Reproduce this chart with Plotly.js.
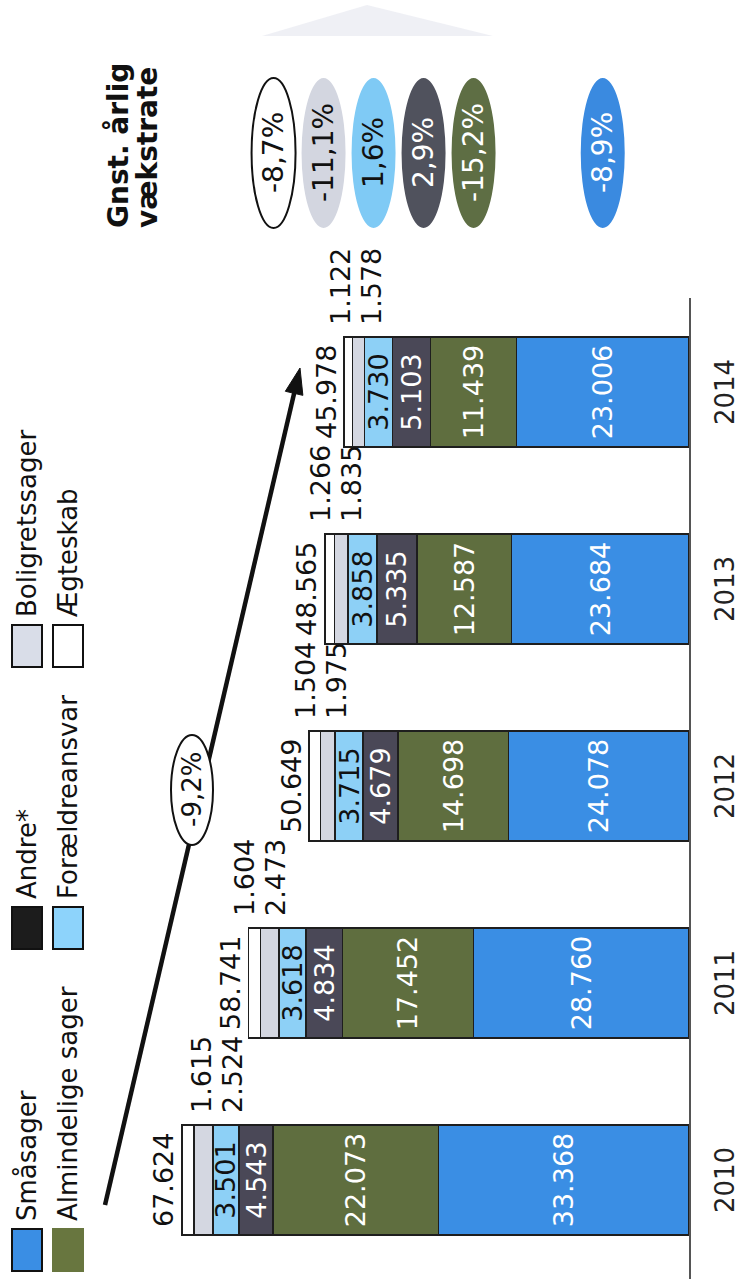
<!DOCTYPE html>
<html><head><meta charset="utf-8">
<script src="https://cdn.plot.ly/plotly-3.0.1.min.js"></script>
<style>
html,body{margin:0;padding:0;background:#fff;overflow:hidden;}
#stage{position:relative;width:743px;height:1279px;overflow:hidden;background:#fff;}
#chart{position:absolute;left:0;top:0;width:1279px;height:743px;transform-origin:0 0;transform:translate(0px,1279px) rotate(-90deg);}
</style></head>
<body><div id="stage"><div id="chart"></div></div>
<script>
// ---- data ----
const years = ['2010', '2011', '2012', '2013', '2014'];
const seriesNames = ['Småsager', 'Almindelige sager', 'Andre*', 'Forældreansvar', 'Boligretssager', 'Ægteskab'];
const smaasager       = [33368, 28760, 24078, 23684, 23006];
const almindelige     = [22073, 17452, 14698, 12587, 11439];
const andre           = [4543, 4834, 4679, 5335, 5103];
const foraeldreansvar = [3501, 3618, 3715, 3858, 3730];
const boligretssager  = [2524, 2473, 1975, 1835, 1578];
const aegteskab       = [1615, 1604, 1504, 1266, 1122];
// average annual growth per series (same order as seriesNames)
const growthRates = ['-8,9%', '-15,2%', '2,9%', '1,6%', '-11,1%', '-8,7%'];
const totalGrowth = '-9,2%';
const growthTitle = ['Gnst. årlig', 'vækstrate'];

// ---- styling / geometry ----
const series = [smaasager, almindelige, andre, foraeldreansvar, boligretssager, aegteskab];
const colors = ['#3a8ee4', '#5f6e3f', '#4a4857', '#8dd0f6', '#d4d7e1', '#ffffff'];
const textColors = ['#ffffff', '#ffffff', '#ffffff', '#111111'];
const legendColors = ['#3a8ee4', '#68763f', '#1c1c1c', '#8dd3fb', '#d9dde8', '#ffffff'];
const ellipseColors = ['#3a8ae0', '#5e6e44', '#50525d', '#7fcaf5', '#d3d6e0', '#ffffff'];
const ellipseText = ['#ffffff', '#ffffff', '#ffffff', '#111111', '#111111', '#111111'];

const W = 1279, H = 743;
const M = {l: 0, r: 298, t: 0, b: 54};
const PW = W - M.l - M.r, PH = H - M.t - M.b;
const PXPERUNIT = 0.0075;
const YMAX = PH / PXPERUNIT;
const CAT = 197, C0 = 99;
const X0 = -(C0 - M.l) / CAT, X1 = X0 + PW / CAT;
const FONT = 'DejaVu Sans';

const px = u => (u - M.l) / PW;
const py = v => (M.t + PH - v) / PH;
const vOf = val => M.t + PH - val * PXPERUNIT;
const fmt = n => String(n).replace(/\B(?=(\d{3})+(?!\d))/g, '.');

const totals = years.map((_, i) => series.reduce((s, arr) => s + arr[i], 0));

const traces = series.map((vals, i) => ({
  type: 'bar', x: years, y: vals, name: seriesNames[i],
  marker: {color: colors[i], line: {color: '#1e1e1e', width: 1.5}},
  texttemplate: i < 4 ? '%{y:,.0f}' : '',
  textposition: i < 4 ? 'inside' : 'none',
  insidetextanchor: 'middle', textangle: 0, constraintext: 'none',
  textfont: {family: FONT, size: 27, color: textColors[i] || '#111'},
  hoverinfo: 'skip', showlegend: false
}));

const shapes = [];
const annotations = [];
const txt = (o) => Object.assign({showarrow: false, xanchor: 'center', yanchor: 'middle'}, o);

// totals and outside labels (x given as category index)
years.forEach((yr, i) => {
  const endV = vOf(totals[i]);
  const aegV = Math.max(endV - 4, 201);      // keep the small labels clear of the legend/arrow
  const sh = endV - aegV;
  annotations.push(txt({x: i, y: totals[i], xref: 'x', yref: 'y', text: fmt(totals[i]),
    yshift: 18, font: {family: FONT, size: 27, color: '#111'}}));
  annotations.push(txt({x: i, y: totals[i], xref: 'x', yref: 'y', text: fmt(aegteskab[i]),
    xshift: 105, yshift: sh, font: {family: FONT, size: 27, color: '#111'}}));
  annotations.push(txt({x: i, y: totals[i], xref: 'x', yref: 'y', text: fmt(boligretssager[i]),
    xshift: 105, yshift: sh - 31, font: {family: FONT, size: 27, color: '#111'}}));
});

// manual legend (two rows, three columns)
const legCols = [8, 330, 612], legRows = [27, 68];
const legOrder = [[0, 0, 0], [2, 1, 0], [4, 2, 0], [1, 0, 1], [3, 1, 1], [5, 2, 1]];
legOrder.forEach(([si, c, r]) => {
  const u0 = legCols[c], vc = legRows[r];
  shapes.push({type: 'rect', xref: 'paper', yref: 'paper', x0: px(u0), x1: px(u0 + 42), y0: py(vc - 15), y1: py(vc + 15),
    fillcolor: legendColors[si], line: {color: si === 1 ? legendColors[si] : '#111', width: 2}});
  annotations.push(txt({xref: 'paper', yref: 'paper', x: px(u0 + 48), y: py(vc), xanchor: 'left',
    text: seriesNames[si], font: {family: FONT, size: 26, color: '#111'}}));
});

// growth rate ellipses
const seg2014 = [];
let cum = 0;
series.forEach(arr => { seg2014.push(cum + arr[4] / 2); cum += arr[4]; });
const ellV = [vOf(seg2014[0]), vOf(seg2014[1])];
for (let k = 1; k <= 4; k++) ellV.push(ellV[1] - 50 * k);
const ellU0 = 1051, ellU1 = 1201;
growthRates.forEach((g, i) => {
  shapes.push({type: 'circle', xref: 'paper', yref: 'paper', x0: px(ellU0), x1: px(ellU1), y0: py(ellV[i] - 22), y1: py(ellV[i] + 22),
    fillcolor: ellipseColors[i], line: {color: i === 5 ? '#111' : ellipseColors[i], width: i === 5 ? 2 : 0}});
  annotations.push(txt({xref: 'paper', yref: 'paper', x: px((ellU0 + ellU1) / 2), y: py(ellV[i]), text: g,
    font: {family: FONT, size: 28, color: ellipseText[i]}}));
});
annotations.push(txt({xref: 'paper', yref: 'paper', x: px(1049), y: py(118), xanchor: 'left',
  text: '<b>' + growthTitle[0] + '</b>', font: {family: FONT, size: 28, color: '#111'}}));
annotations.push(txt({xref: 'paper', yref: 'paper', x: px(1049), y: py(147), xanchor: 'left',
  text: '<b>' + growthTitle[1] + '</b>', font: {family: FONT, size: 28, color: '#111'}}));

// trend arrow with ellipse label
const T = [74, 105], Hd = [911, 300];
const dx = Hd[0] - T[0], dy = Hd[1] - T[1], L = Math.hypot(dx, dy);
const e = [dx / L, dy / L], n = [-e[1], e[0]];
const B = [Hd[0] - 26 * e[0], Hd[1] - 26 * e[1]];
shapes.push({type: 'line', xref: 'paper', yref: 'paper', x0: px(T[0]), y0: py(T[1]), x1: px(B[0] + 4 * e[0]), y1: py(B[1] + 4 * e[1]),
  line: {color: '#111', width: 4.5}});
shapes.push({type: 'path', xref: 'paper', yref: 'paper',
  path: `M ${px(Hd[0])} ${py(Hd[1])} L ${px(B[0] + 9 * n[0])} ${py(B[1] + 9 * n[1])} L ${px(B[0] - 9 * n[0])} ${py(B[1] - 9 * n[1])} Z`,
  fillcolor: '#111', line: {color: '#111', width: 1}});
const EC = [489, 192];
shapes.push({type: 'circle', xref: 'paper', yref: 'paper', x0: px(EC[0] - 55), x1: px(EC[0] + 55), y0: py(EC[1] - 21), y1: py(EC[1] + 21),
  fillcolor: '#ffffff', line: {color: '#111', width: 2}});
annotations.push(txt({xref: 'paper', yref: 'paper', x: px(EC[0]), y: py(EC[1]), text: totalGrowth,
  font: {family: FONT, size: 26, color: '#111'}}));

// faint scan artefact at the far right
shapes.push({type: 'path', xref: 'paper', yref: 'paper',
  path: `M ${px(1274)} ${py(367)} L ${px(1243)} ${py(262)} L ${px(1243)} ${py(493)} Z`,
  fillcolor: '#e2e4ed', opacity: 0.55, line: {width: 0}});

const layout = {
  width: W, height: H, autosize: false,
  margin: {l: M.l, r: M.r, t: M.t, b: M.b, pad: 0},
  paper_bgcolor: '#ffffff', plot_bgcolor: 'rgba(0,0,0,0)',
  separators: ',.', barmode: 'stack', bargap: 0.44,
  font: {family: FONT, size: 26, color: '#1a1a1a'},
  showlegend: false,
  xaxis: {type: 'category', range: [X0, X1], showline: true, linecolor: '#555', linewidth: 2,
    ticks: '', showgrid: false, zeroline: false, tickfont: {family: FONT, size: 26, color: '#222'},
    ticklabelstandoff: 12, fixedrange: true},
  yaxis: {range: [0, YMAX], visible: false, fixedrange: true},
  shapes: shapes, annotations: annotations
};

Plotly.newPlot('chart', traces, layout, {staticPlot: true, displayModeBar: false});
</script></body></html>
